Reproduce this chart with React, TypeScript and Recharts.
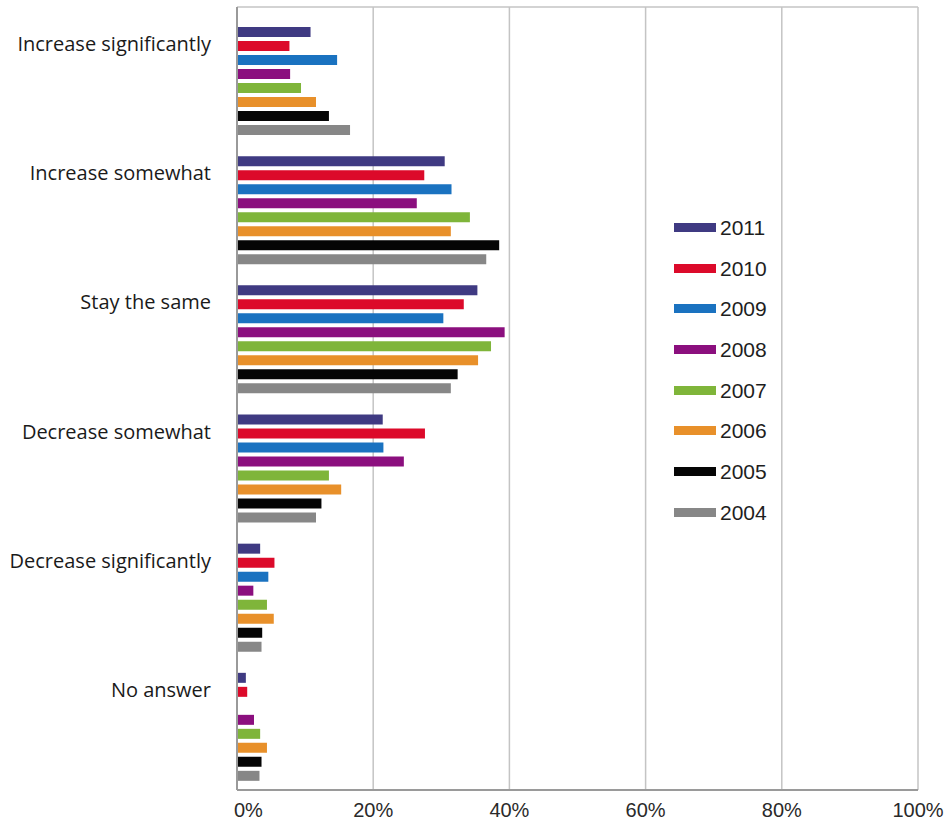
import React from 'react';
import { BarChart, Bar, XAxis, YAxis, CartesianGrid, Legend } from 'recharts';

// Survey answers (percent of respondents) by year
const categories = [
  'Increase significantly',
  'Increase somewhat',
  'Stay the same',
  'Decrease somewhat',
  'Decrease significantly',
  'No answer',
];

const years = ['2011', '2010', '2009', '2008', '2007', '2006', '2005', '2004'];

const v2011 = [10.8, 30.5, 35.3, 21.4, 3.4, 1.3];
const v2010 = [7.7, 27.5, 33.3, 27.6, 5.5, 1.5];
const v2009 = [14.7, 31.5, 30.3, 21.5, 4.6, 0];
const v2008 = [7.8, 26.4, 39.3, 24.5, 2.4, 2.5];
const v2007 = [9.4, 34.2, 37.3, 13.5, 4.4, 3.4];
const v2006 = [11.6, 31.4, 35.4, 15.3, 5.4, 4.4];
const v2005 = [13.5, 38.5, 32.4, 12.4, 3.7, 3.6];
const v2004 = [16.6, 36.6, 31.4, 11.6, 3.6, 3.3];

const xTicks = [0, 20, 40, 60, 80, 100];

const seriesValues: Record<string, number[]> = {
  '2011': v2011,
  '2010': v2010,
  '2009': v2009,
  '2008': v2008,
  '2007': v2007,
  '2006': v2006,
  '2005': v2005,
  '2004': v2004,
};

const colors: Record<string, string> = {
  '2011': '#3f3a82',
  '2010': '#dc0a2a',
  '2009': '#1a72c0',
  '2008': '#8b0f7e',
  '2007': '#7fb53a',
  '2006': '#e8902a',
  '2005': '#050505',
  '2004': '#878787',
};

const data = categories.map((category, i) => {
  const row: Record<string, string | number> = { category };
  years.forEach((y) => {
    row[y] = seriesValues[y][i];
  });
  return row;
});

const SANS = "'Liberation Sans', Arial, sans-serif";

const CategoryTick = (props: any) => {
  const { x, y, payload } = props;
  return (
    <text
      x={x}
      y={y - 36}
      textAnchor="end"
      dominantBaseline="central"
      fontFamily="'Open Sans', sans-serif"
      fontSize={20}
      fill="#1a1a1a"
    >
      {payload.value}
    </text>
  );
};

const PercentTick = (props: any) => {
  const { x, y, payload } = props;
  const isZero = payload.value === 0;
  return (
    <text
      x={isZero ? x - 3 : x}
      y={y}
      dy="0.71em"
      textAnchor={isZero ? 'start' : 'middle'}
      fontFamily={SANS}
      fontSize={20}
      fill="#2a2a2a"
    >
      {`${payload.value}%`}
    </text>
  );
};

// Legend rows follow the series order (newest year first)
const YearLegend = (props: any) => {
  const items = [...(props.payload || [])].sort(
    (a: any, b: any) => years.indexOf(String(a.value)) - years.indexOf(String(b.value))
  );
  return (
    <div style={{ display: 'flex', flexDirection: 'column' }}>
      {items.map((item: any) => (
        <div
          key={item.value}
          style={{ display: 'flex', alignItems: 'center', height: 40.7 }}
        >
          <div
            style={{
              width: 42,
              height: 9,
              background: item.color,
              marginRight: 4,
            }}
          />
          <span
            style={{
              fontFamily: SANS,
              fontSize: 21,
              color: '#1e1e1e',
              lineHeight: '21px',
            }}
          >
            {item.value}
          </span>
        </div>
      ))}
    </div>
  );
};

export default function App() {
  return (
    <div style={{ position: 'absolute', left: 0, top: 0, width: 947, height: 825, background: '#fff' }}>
      <BarChart
        width={947}
        height={825}
        data={data}
        layout="vertical"
        margin={{ top: 7, right: 29, bottom: 0, left: 0 }}
        barGap={4}
        barCategoryGap={12}
      >
        <CartesianGrid
          stroke="#c4c4c4"
          strokeWidth={1.5}
          vertical={true}
          horizontal={true}
          horizontalCoordinatesGenerator={(p: any) => [p && p.offset ? p.offset.top : 7]}
        />
        <XAxis
          type="number"
          domain={[0, 100]}
          ticks={xTicks}
          interval={0}
          height={35}
          axisLine={{ stroke: '#9a9a9a', strokeWidth: 2 }}
          tickLine={false}
          tickSize={0}
          tickMargin={13}
          tick={<PercentTick />}
        />
        <YAxis
          type="category"
          dataKey="category"
          width={237}
          padding={{ top: 8, bottom: 0 }}
          axisLine={{ stroke: '#9a9a9a', strokeWidth: 2 }}
          tickLine={false}
          tickSize={0}
          tickMargin={26}
          interval={0}
          tick={<CategoryTick />}
        />
        <Legend
          layout="vertical"
          align="center"
          verticalAlign="middle"
          content={<YearLegend />}
          wrapperStyle={{ left: 674, top: 207, width: 130, height: 330 }}
        />
        {years.map((y) => (
          <Bar key={y} dataKey={y} name={y} fill={colors[y]} isAnimationActive={false} />
        ))}
      </BarChart>
    </div>
  );
}
